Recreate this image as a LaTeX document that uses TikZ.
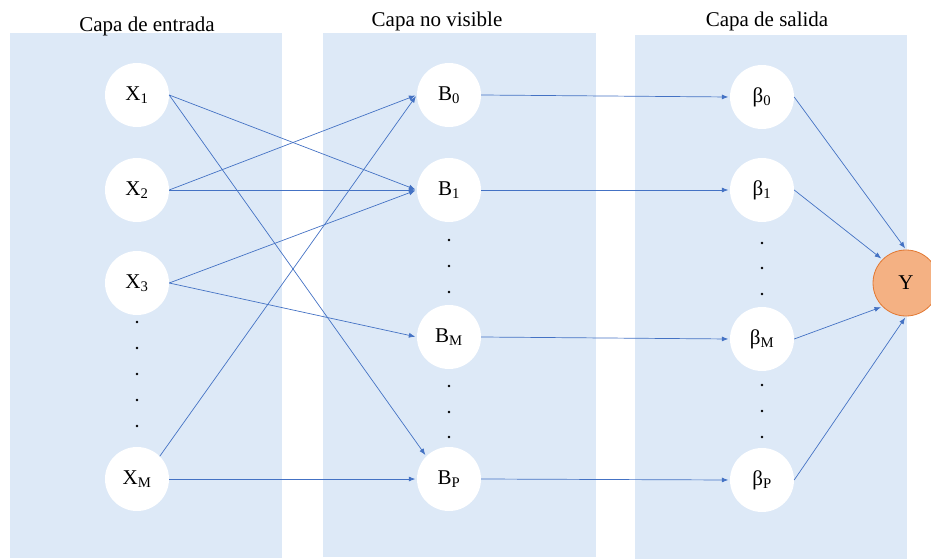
\documentclass[tikz,border=0pt]{standalone}
\usepackage{fontspec}
\setmainfont{Liberation Serif}
\usetikzlibrary{positioning, arrows.meta}

\definecolor{panelblue}{RGB}{221,233,247}
\definecolor{linkblue}{RGB}{68,114,196}
\definecolor{outfill}{RGB}{244,177,131}
\definecolor{outdraw}{RGB}{226,120,50}

\begin{document}
\begin{tikzpicture}[
    x=1pt, y=-1pt,
    >={Latex[length=6.5pt,width=5pt]},
    font=\fontsize{21}{25}\selectfont,
    layerbox/.style={fill=panelblue, draw=none},
    neuron/.style={circle, fill=white, minimum size=64pt, inner sep=0pt},
    outneuron/.style={circle, fill=outfill, draw=outdraw, line width=0.8pt,
        minimum size=66pt, inner sep=0pt},
    title/.style={anchor=base},
    link/.style={->, draw=linkblue, line width=0.7pt, shorten >=1.5pt},
]

\useasboundingbox (0,0) rectangle (931,559);

\def\colX{137}
\def\colB{449}
\def\colC{762}

% layers
\fill[layerbox] (10,33) rectangle (282,558);
\fill[layerbox] (323,33) rectangle (596,557);
\fill[layerbox] (635,35) rectangle (907,559);

\node[title] (tin)  at (147,32) {Capa de entrada};
\node[title] (thid) at (437,27) {Capa no visible};
\node[title] (tout) at (767,27) {Capa de salida};

% inputs
\node[neuron] (x1) at (\colX,95)  {X\textsubscript{1}};
\node[neuron] (x2) at (\colX,190) {X\textsubscript{2}};
\node[neuron] (x3) at (\colX,283) {X\textsubscript{3}};
\node[neuron] (xm) at (\colX,479) {X\textsubscript{M}};

% hidden
\node[neuron] (b0) at (\colB,95)  {B\textsubscript{0}};
\node[neuron] (b1) at (\colB,190) {B\textsubscript{1}};
\node[neuron] (bm) at (\colB,337) {B\textsubscript{M}};
\node[neuron] (bp) at (\colB,479) {B\textsubscript{P}};

% outputs
\node[neuron] (c0) at (\colC,97)  {β\textsubscript{0}};
\node[neuron] (c1) at (\colC,190) {β\textsubscript{1}};
\node[neuron] (cm) at (\colC,339) {β\textsubscript{M}};
\node[neuron] (cp) at (\colC,480) {β\textsubscript{P}};

\node[outneuron] (y) at (906,283) {Y};

% dots
\foreach \y in {322,348,374,400,426}
    \fill (\colX,\y) circle (1.3);
\foreach \y in {240,266,292,386,412,437}
    \fill (\colB,\y) circle (1.3);
\foreach \y in {243,268,294,385,411,437}
    \fill (\colC,\y) circle (1.3);

% connections
\draw[link] (x1.east) -- (b1.west);
\draw[link] (x1.east) -- (bp.north west);
\draw[link] (x2.east) -- (b0.west);
\draw[link] (x2.east) -- (b1.west);
\draw[link] (x3.east) -- (b1.west);
\draw[link] (x3.east) -- (bm.west);
\draw[link] (xm.north east) -- (b0.west);
\draw[link] (xm.east) -- (bp.west);

\foreach \a/\b in {b0/c0, b1/c1, bm/cm, bp/cp}
    \draw[link] (\a.east) -- (\b.west);

\draw[link] (c0.east) -- (y.north);
\draw[link] (c1.east) -- (y.north west);
\draw[link] (cm.east) -- (y.south west);
\draw[link] (cp.east) -- (y.south);

\end{tikzpicture}
\end{document}
